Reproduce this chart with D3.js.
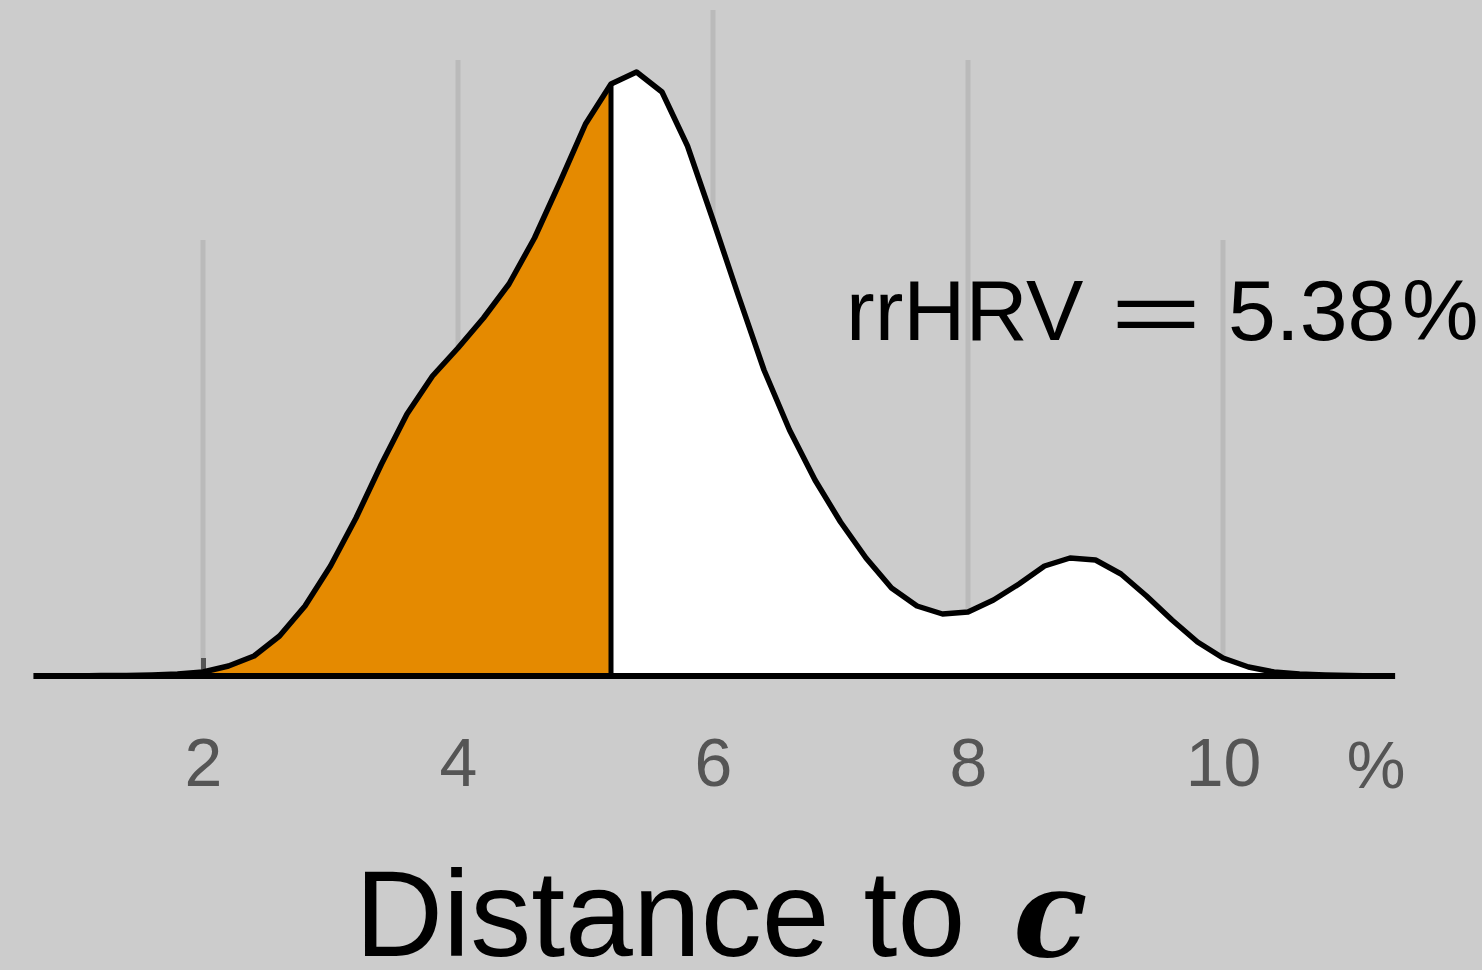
<!DOCTYPE html>
<html>
<head>
<meta charset="utf-8">
<script src="https://cdn.jsdelivr.net/npm/d3@7"></script>
<style>
  html, body { margin: 0; padding: 0; background: #cccccc; }
  svg { display: block; }
</style>
</head>
<body>
<div id="chart"></div>
<script>
// density curve (x in %, density arbitrary units)
const xs = [0.8, 1.0, 1.2, 1.4, 1.6, 1.8, 2.0, 2.2, 2.4, 2.6, 2.8, 3.0, 3.2, 3.4, 3.6, 3.8,
  4.0, 4.2, 4.4, 4.6, 4.8, 5.0, 5.2, 5.4, 5.6, 5.8, 6.0, 6.2, 6.4, 6.6, 6.8, 7.0,
  7.2, 7.4, 7.6, 7.8, 8.0, 8.2, 8.4, 8.6, 8.8, 9.0, 9.2, 9.4, 9.6, 9.8, 10.0, 10.2,
  10.4, 10.6, 10.8, 11.0, 11.2];
const density = [0, 0, 0.0005, 0.0005, 0.001, 0.002, 0.004, 0.010, 0.020, 0.040, 0.070, 0.110, 0.158, 0.212, 0.262, 0.300,
  0.328, 0.358, 0.392, 0.438, 0.494, 0.552, 0.592, 0.604, 0.584, 0.530, 0.456, 0.380, 0.306, 0.246, 0.196, 0.154,
  0.118, 0.088, 0.070, 0.062, 0.064, 0.076, 0.092, 0.110, 0.118, 0.116, 0.102, 0.080, 0.056, 0.034, 0.018, 0.009,
  0.004, 0.002, 0.001, 0.0005, 0];
const cutAt = 5.2;
const tickValues = [2, 4, 6, 8, 10];
const gridTops = [0.436, 0.616, 0.666, 0.616, 0.436];
const unitLabel = "%";
const annotation = { name: "rrHRV", eq: "=", value: "5.38", unit: "%" };

const width = 1482, height = 970;
const baseY = 676;

const svg = d3.select("#chart").append("svg")
  .attr("width", width)
  .attr("height", height);

svg.append("rect").attr("width", width).attr("height", height).attr("fill", "#cccccc");

const x = d3.scaleLinear().domain([2, 10]).range([203, 1223]);
const y = d3.scaleLinear().domain([0, 0.6]).range([baseY, 76]);

const data = xs.map((v, i) => ({ x: v, d: density[i] }));

// gridlines
svg.append("g")
  .selectAll("line")
  .data(tickValues)
  .enter()
  .append("line")
  .attr("x1", (d) => x(d))
  .attr("x2", (d) => x(d))
  .attr("y1", baseY)
  .attr("y2", (d, i) => y(gridTops[i]))
  .attr("stroke", "#bababa")
  .attr("stroke-width", 5);

// axis: short ticks and labels
const axis = svg.append("g")
  .attr("transform", `translate(0, ${baseY})`)
  .call(d3.axisBottom(x).tickValues(tickValues).tickSize(-18).tickPadding(62).tickFormat(d3.format("d")));
axis.select(".domain").remove();
axis.selectAll(".tick line").attr("stroke", "#555").attr("stroke-width", 5);
axis.selectAll(".tick text")
  .attr("fill", "#555")
  .style("font-family", "'Liberation Sans', Arial, sans-serif")
  .style("font-size", "68px");

svg.append("text")
  .attr("x", x(11.2))
  .attr("y", 788)
  .attr("text-anchor", "middle")
  .attr("fill", "#555")
  .style("font-family", "'Liberation Sans', Arial, sans-serif")
  .style("font-size", "66px")
  .text(unitLabel);

// filled areas
const area = d3.area()
  .x((d) => x(d.x))
  .y0(baseY)
  .y1((d) => y(d.d));

svg.append("path")
  .datum(data.filter((d) => d.x <= cutAt))
  .attr("d", area)
  .attr("fill", "#e58a00");

svg.append("path")
  .datum(data.filter((d) => d.x >= cutAt))
  .attr("d", area)
  .attr("fill", "#ffffff");

// curve outline
const line = d3.line()
  .x((d) => x(d.x))
  .y((d) => y(d.d));

svg.append("path")
  .datum(data)
  .attr("d", line)
  .attr("fill", "none")
  .attr("stroke", "#000")
  .attr("stroke-width", 5.5)
  .attr("stroke-linejoin", "round");

// cut line
const cutD = density[xs.indexOf(cutAt)];
svg.append("line")
  .attr("x1", x(cutAt)).attr("x2", x(cutAt))
  .attr("y1", baseY).attr("y2", y(cutD))
  .attr("stroke", "#000")
  .attr("stroke-width", 5);

// baseline
svg.append("line")
  .attr("x1", x(0.67)).attr("x2", x(11.35))
  .attr("y1", baseY).attr("y2", baseY)
  .attr("stroke", "#000")
  .attr("stroke-width", 6);

// annotation
const annFont = "'Liberation Sans', Arial, sans-serif";
const ann = svg.append("text")
  .attr("y", 340)
  .attr("fill", "#000")
  .style("font-family", annFont)
  .style("font-size", "86px");
ann.append("tspan").attr("x", 846).text(annotation.name);
ann.append("tspan").attr("x", 1228).text(annotation.value);
ann.append("tspan").attr("x", 1402).text(annotation.unit);

svg.append("text")
  .attr("x", 1110)
  .attr("y", 342)
  .attr("fill", "#000")
  .attr("textLength", 92)
  .attr("lengthAdjust", "spacingAndGlyphs")
  .style("font-family", annFont)
  .style("font-size", "86px")
  .text(annotation.eq);

// x axis title
const title = svg.append("text")
  .attr("x", 355)
  .attr("y", 956)
  .attr("fill", "#000")
  .style("font-family", "'Liberation Sans', Arial, sans-serif")
  .style("font-size", "122px");
title.append("tspan").text("Distance to");
title.append("tspan")
  .attr("dx", 48)
  .style("font-family", "'DejaVu Serif', serif")
  .style("font-style", "italic")
  .style("font-weight", "bold")
  .text("c");
</script>
</body>
</html>
